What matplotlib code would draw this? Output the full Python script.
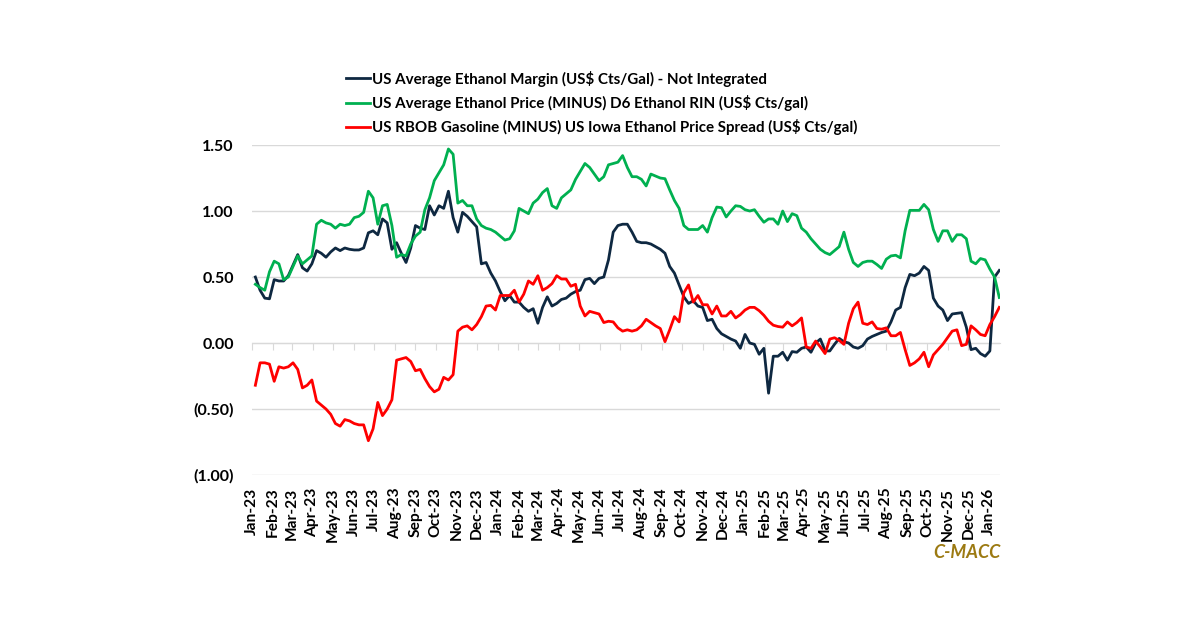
import numpy as np
import pandas as pd
import matplotlib
matplotlib.use("Agg")
import matplotlib.pyplot as plt
import matplotlib.dates as mdates
from matplotlib.ticker import FuncFormatter

# weekly observations, first week ending 6 Jan 2023
dates = pd.date_range("2023-01-06", periods=159, freq="7D")

margin = [
    0.50, 0.40, 0.34, 0.335, 0.48, 0.47, 0.47, 0.51, 0.59, 0.67,
    0.57, 0.545, 0.60, 0.70, 0.68, 0.65, 0.69, 0.72, 0.70, 0.72,
    0.71, 0.705, 0.705, 0.72, 0.835, 0.85, 0.82, 0.94, 0.91, 0.71,
    0.76, 0.68, 0.61, 0.72, 0.89, 0.87, 0.86, 1.04, 0.97, 1.04,
    1.02, 1.15, 0.95, 0.84, 0.99, 0.96, 0.92, 0.88, 0.60, 0.61,
    0.53, 0.47, 0.39, 0.32, 0.36, 0.31, 0.31, 0.27, 0.24, 0.26,
    0.15, 0.27, 0.35, 0.28, 0.30, 0.33, 0.34, 0.37, 0.39, 0.40,
    0.48, 0.49, 0.45, 0.49, 0.50, 0.63, 0.84, 0.89, 0.90, 0.90,
    0.84, 0.77, 0.76, 0.76, 0.75, 0.73, 0.71, 0.68, 0.58, 0.53,
    0.44, 0.35, 0.30, 0.32, 0.28, 0.27, 0.17, 0.18, 0.11, 0.07,
    0.05, 0.03, 0.015, -0.04, 0.065, 0.0, -0.01, -0.085, -0.04, -0.38,
    -0.10, -0.10, -0.07, -0.13, -0.065, -0.07, -0.04, -0.03, -0.07, 0.0,
    0.03, -0.06, -0.06, -0.01, 0.035, 0.01, 0.0, -0.03, -0.04, -0.02,
    0.03, 0.05, 0.065, 0.08, 0.09, 0.16, 0.25, 0.27, 0.42, 0.52,
    0.51, 0.53, 0.58, 0.55, 0.34, 0.28, 0.25, 0.17, 0.22, 0.225,
    0.23, 0.12, -0.05, -0.04, -0.08, -0.10, -0.06, 0.50, 0.55,
]

price_less_rin = [
    0.445, 0.42, 0.40, 0.54, 0.62, 0.60, 0.48, 0.50, 0.58, 0.66,
    0.60, 0.63, 0.66, 0.90, 0.93, 0.91, 0.90, 0.87, 0.90, 0.89,
    0.90, 0.95, 0.96, 0.99, 1.15, 1.10, 0.90, 1.04, 1.05, 0.89,
    0.65, 0.67, 0.66, 0.75, 0.81, 0.84, 1.01, 1.10, 1.23, 1.29,
    1.35, 1.47, 1.43, 1.06, 1.08, 1.04, 1.04, 0.94, 0.89, 0.87,
    0.86, 0.84, 0.81, 0.78, 0.79, 0.85, 1.02, 1.00, 0.98, 1.06,
    1.09, 1.14, 1.17, 1.04, 1.02, 1.10, 1.13, 1.16, 1.24, 1.30,
    1.36, 1.33, 1.28, 1.23, 1.26, 1.35, 1.36, 1.37, 1.42, 1.33,
    1.26, 1.26, 1.24, 1.19, 1.28, 1.265, 1.25, 1.245, 1.16, 1.08,
    1.02, 0.89, 0.86, 0.86, 0.86, 0.89, 0.84, 0.95, 1.03, 1.025,
    0.955, 1.00, 1.04, 1.035, 1.01, 1.00, 1.01, 0.96, 0.915, 0.94,
    0.94, 0.90, 1.00, 0.92, 0.98, 0.965, 0.87, 0.84, 0.79, 0.75,
    0.71, 0.685, 0.67, 0.70, 0.73, 0.84, 0.71, 0.61, 0.58, 0.61,
    0.62, 0.62, 0.595, 0.565, 0.635, 0.66, 0.665, 0.645, 0.85, 1.005,
    1.005, 1.005, 1.05, 1.01, 0.86, 0.77, 0.85, 0.85, 0.77, 0.82,
    0.82, 0.79, 0.62, 0.60, 0.64, 0.63, 0.56, 0.50, 0.345,
]

rbob_spread = [
    -0.32, -0.15, -0.15, -0.16, -0.29, -0.18, -0.19, -0.18, -0.15, -0.20,
    -0.34, -0.32, -0.28, -0.44, -0.47, -0.50, -0.54, -0.61, -0.63, -0.58,
    -0.59, -0.61, -0.62, -0.62, -0.74, -0.65, -0.45, -0.55, -0.50, -0.43,
    -0.13, -0.12, -0.11, -0.14, -0.21, -0.20, -0.27, -0.33, -0.37, -0.35,
    -0.26, -0.28, -0.24, 0.09, 0.12, 0.13, 0.10, 0.14, 0.20, 0.28,
    0.285, 0.25, 0.36, 0.36, 0.36, 0.40, 0.31, 0.37, 0.47, 0.445,
    0.51, 0.40, 0.42, 0.45, 0.51, 0.485, 0.485, 0.43, 0.445, 0.28,
    0.205, 0.24, 0.23, 0.22, 0.155, 0.165, 0.16, 0.115, 0.09, 0.10,
    0.09, 0.10, 0.13, 0.18, 0.155, 0.13, 0.11, 0.01, 0.10, 0.20,
    0.16, 0.38, 0.44, 0.31, 0.36, 0.29, 0.29, 0.22, 0.28, 0.205,
    0.205, 0.24, 0.19, 0.215, 0.25, 0.27, 0.27, 0.245, 0.21, 0.165,
    0.135, 0.125, 0.12, 0.16, 0.13, 0.155, 0.19, -0.03, -0.04, 0.015,
    -0.03, -0.08, 0.03, 0.04, 0.02, -0.01, 0.15, 0.26, 0.31, 0.15,
    0.14, 0.16, 0.11, 0.105, 0.115, 0.055, 0.055, 0.08, -0.05, -0.17,
    -0.15, -0.12, -0.07, -0.18, -0.09, -0.05, -0.01, 0.04, 0.09, 0.10,
    -0.02, -0.01, 0.13, 0.10, 0.065, 0.055, 0.14, 0.20, 0.27,
]

labels = [
    "US Average Ethanol Margin (US$ Cts/Gal) - Not Integrated",
    "US Average Ethanol Price (MINUS) D6 Ethanol RIN (US$ Cts/gal)",
    "US RBOB Gasoline (MINUS) US Iowa Ethanol Price Spread (US$ Cts/gal)",
]
colors = ["#0e2841", "#00b050", "#ff0000"]

plt.rcParams["font.family"] = ["Lato", "DejaVu Sans"]

fig = plt.figure(figsize=(12, 6.27), dpi=100)
ax = fig.add_axes([0.21, 0.2424, 0.6233, 0.5263])

for vals, lab, col in zip([margin, price_less_rin, rbob_spread], labels, colors):
    ax.plot(dates, vals, color=col, lw=2.0, label=lab, solid_joinstyle="round")

ax.set_ylim(-1.0, 1.5)
ax.set_yticks([-1.0, -0.5, 0.0, 0.5, 1.0, 1.5])
ax.yaxis.set_major_formatter(FuncFormatter(
    lambda v, p: f"({abs(v):.2f})" if v < 0 else f"{v:.2f}"))
ax.grid(axis="y", color="#d9d9d9", lw=1)
ax.set_axisbelow(True)
for s in ax.spines.values():
    s.set_visible(False)
ax.tick_params(axis="y", length=0, pad=13, labelsize=11.5)
for t in ax.get_yticklabels():
    t.set_fontweight("bold")

ax.set_xlim(pd.Timestamp("2023-01-01"), pd.Timestamp("2026-01-17"))
ax.xaxis.set_major_locator(mdates.MonthLocator())
ax.xaxis.set_major_formatter(mdates.DateFormatter("%b-%y"))
ax.tick_params(axis="x", length=0, pad=9, labelsize=11.2, rotation=90)
for t in ax.get_xticklabels():
    t.set_fontweight("bold")

# axis line through zero, with its tick marks
zero_ax = ax.secondary_xaxis(0.4)
zero_ax.xaxis.set_major_locator(mdates.MonthLocator())
zero_ax.spines["bottom"].set_color("#d9d9d9")
zero_ax.tick_params(axis="x", length=5, color="#d9d9d9", labelbottom=False)

fig.legend(loc="upper left", bbox_to_anchor=(0.283, 0.897), frameon=False,
           handlelength=1.6, handletextpad=0.15, labelspacing=0.55,
           prop={"weight": "bold", "size": 10.9}, borderaxespad=0)

fig.text(0.834, 0.119, "C-MACC", ha="right", va="center", color="#9c7a12",
         fontsize=13, fontweight="bold", fontstyle="italic")

fig.savefig("out.png", dpi=100)
